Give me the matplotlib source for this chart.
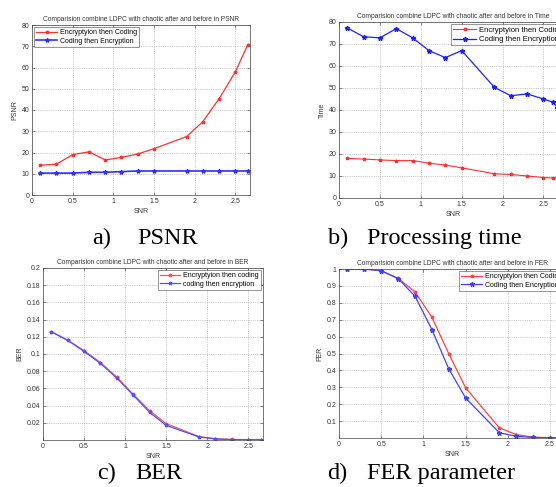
import numpy as np
import matplotlib.pyplot as plt

plt.rcParams['font.family'] = ['Liberation Sans', 'DejaVu Sans']

snr = [0.1, 0.3, 0.5, 0.7, 0.9, 1.1, 1.3, 1.5, 1.9, 2.1, 2.3, 2.5, 2.65]
snr_b = [0.1, 0.3, 0.5, 0.7, 0.9, 1.1, 1.3, 1.5, 1.9, 2.1, 2.3, 2.5, 2.62, 2.67]

psnr_enc_cod = [14, 14.5, 19, 20.3, 16.5, 17.7, 19.3, 21.8, 27.5, 34.5, 45.3, 58, 70.5]
psnr_cod_enc = [10.3, 10.3, 10.3, 10.7, 10.7, 11, 11.3, 11.3, 11.3, 11.3, 11.3, 11.3, 11.3]

time_enc_cod = [18, 17.7, 17.3, 17, 17, 15.8, 15, 13.7, 11, 10.7, 10, 9.3, 9.1, 9]
time_cod_enc = [77.3, 73.3, 72.8, 77, 72.8, 67, 63.8, 67, 50.3, 46.5, 47.3, 45, 43.5, 41]

ber_enc_cod = [0.126, 0.116, 0.104, 0.090, 0.073, 0.053, 0.034, 0.019, 0.004, 0.0015, 0.0006, 0.0004, 0.0003]
ber_cod_enc = [0.126, 0.116, 0.103, 0.089, 0.072, 0.052, 0.032, 0.017, 0.0035, 0.0012, 0.0005, 0.0003, 0.0002]

fer_enc_cod = [1.0, 1.0, 0.99, 0.945, 0.865, 0.715, 0.50, 0.297, 0.06, 0.02, 0.005, 0.002, 0.001]
fer_cod_enc = [1.0, 1.0, 0.99, 0.943, 0.84, 0.642, 0.41, 0.237, 0.031, 0.01, 0.003, 0.001, 0.0005]

W, H = 556, 487
fig = plt.figure(figsize=(W / 100, H / 100), dpi=100)


def make_ax(l, r, t, b):
    return fig.add_axes([l / W, 1 - b / H, (r - l) / W, (b - t) / H])


def style(ax, title, ylabel, xlim, ylim, yticks, yticklabels=None):
    ax.set_xlim(*xlim)
    ax.set_ylim(*ylim)
    ax.set_xticks([0, 0.5, 1, 1.5, 2, 2.5])
    ax.set_xticklabels(['0', '0.5', '1', '1.5', '2', '2.5'])
    ax.set_yticks(yticks)
    if yticklabels is not None:
        ax.set_yticklabels(yticklabels)
    ax.tick_params(direction='in', top=True, right=True, labelsize=5,
                   length=2, width=0.4, pad=2, colors='#333333')
    ax.grid(True, linestyle=':', color='#999999', linewidth=0.5)
    for s in ax.spines.values():
        s.set_linewidth(0.5)
        s.set_color('#444444')
    ax.set_title(title, fontsize=4.8, pad=3, color='#333333')
    ax.set_xlabel('SNR', fontsize=5, labelpad=2, color='#333333')
    ax.set_ylabel(ylabel, fontsize=5, labelpad=2, color='#333333')


def legend(ax, loc, fs):
    leg = ax.legend(loc=loc, fontsize=fs, frameon=True, fancybox=False, edgecolor='#444444',
                    borderpad=0.3, labelspacing=0.25, handlelength=3, borderaxespad=0.3,
                    handletextpad=0.4)
    leg.get_frame().set_linewidth(0.5)


# a) PSNR
ax = make_ax(32, 250, 25, 195)
ax.plot(snr, psnr_enc_cod, color='#ff3030', lw=0.9, marker='*', ms=2.5, label='Encryptyion then Coding')
ax.plot(snr, psnr_cod_enc, color='#3030ff', lw=1.2, marker='*', ms=3, label='Coding then Encryption')
style(ax, 'Comparision combine LDPC with chaotic after and before in PSNR', 'PSNR',
      (0, 2.68), (0, 80), np.arange(0, 81, 10))
legend(ax, 'upper left', 5)

# b) Time
ax = make_ax(339, 568, 22, 198)
ax.plot(snr_b, time_enc_cod, color='#ff3030', lw=0.8, marker='*', ms=2.5, label='Encryptyion then Coding')
ax.plot(snr_b, time_cod_enc, color='#2020ff', lw=0.9, marker='*', ms=3.5, label='Coding then Encryption')
style(ax, 'Comparision combine LDPC with chaotic after and before in Time', 'Time',
      (0, 2.8), (0, 80), np.arange(0, 81, 10))
legend(ax, 'upper right', 5.5)

# c) BER
ax = make_ax(43, 263, 268, 440)
ax.plot(snr, ber_enc_cod, color='#ff5050', lw=0.9, marker='*', ms=2.5, label='Encryptyion then coding')
ax.plot(snr, ber_cod_enc, color='#5050ff', lw=0.9, marker='*', ms=2.5, label='coding then encryption')
style(ax, 'Comparision combine LDPC with chaotic after and before in BER', 'BER',
      (0, 2.68), (0, 0.2), np.arange(0.02, 0.201, 0.02),
      ['0.02', '0.04', '0.06', '0.08', '0.1', '0.12', '0.14', '0.16', '0.18', '0.2'])
legend(ax, 'upper right', 5)

# d) FER
ax = make_ax(339, 566, 269, 438)
ax.plot(snr, fer_enc_cod, color='#ff4040', lw=0.9, marker='*', ms=2.5, label='Encryptyion then Coding')
ax.plot(snr, fer_cod_enc, color='#4040ff', lw=0.9, marker='*', ms=3.5, label='Coding then Encryption')
style(ax, 'Comparision combine LDPC with chaotic after and before in FER', 'FER',
      (0, 2.69), (0, 1), np.arange(0.1, 1.01, 0.1),
      ['0.1', '0.2', '0.3', '0.4', '0.5', '0.6', '0.7', '0.8', '0.9', '1'])
legend(ax, 'upper right', 5)

# captions
cap = dict(fontsize=17.5, family=['Liberation Serif', 'DejaVu Serif'], va='baseline', ha='left')
fig.text(92 / W, 1 - 244 / H, 'a)', **cap)
fig.text(137 / W, 1 - 244 / H, 'PSNR', **cap)
fig.text(328 / W, 1 - 244 / H, 'b)', **cap)
fig.text(367 / W, 1 - 244 / H, 'Processing time', **cap)
fig.text(97 / W, 1 - 479 / H, 'c)', **cap)
fig.text(135 / W, 1 - 479 / H, 'BER', **cap)
fig.text(327 / W, 1 - 479 / H, 'd)', **cap)
fig.text(367 / W, 1 - 479 / H, 'FER parameter', **cap)

fig.savefig('out.png', dpi=100)
